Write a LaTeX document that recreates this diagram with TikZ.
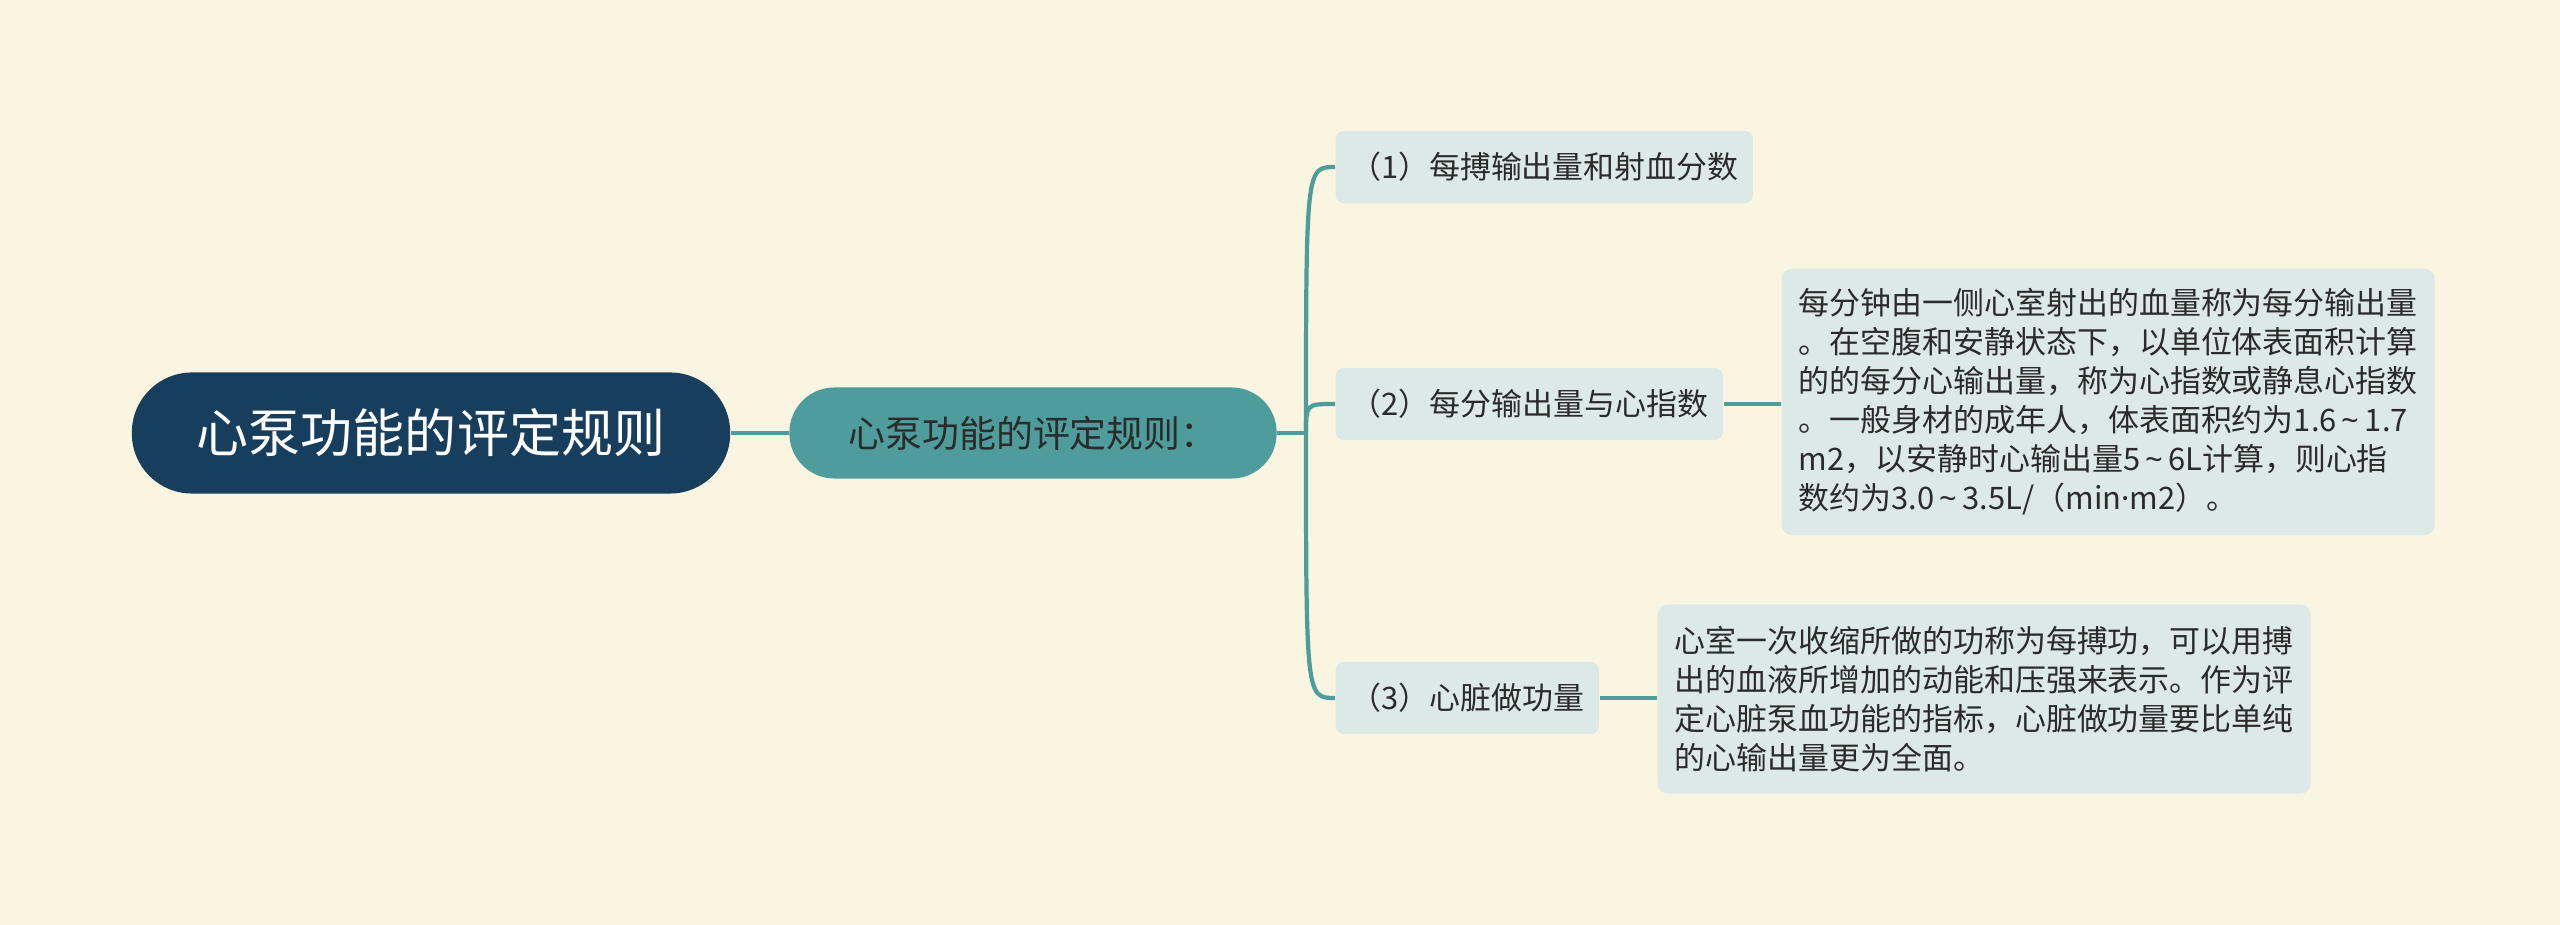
\documentclass[tikz,border=0pt]{standalone}
\usepackage{fontspec}
\setmainfont{Noto Sans CJK SC}
\newfontfamily\latinfont{Noto Sans}
\newcommand{\rangesign}{{\latinfont\,\textasciitilde\,}}
\newcommand{\middot}{{\latinfont ·}}
\definecolor{bgcream}{HTML}{FAF5E0}
\definecolor{rootblue}{HTML}{173E5C}
\definecolor{mainteal}{HTML}{4E9C9B}
\definecolor{boxlight}{HTML}{DCE9E7}
\definecolor{textdark}{HTML}{2B2B2B}
\begin{document}
\begin{tikzpicture}[
    x=0.01cm, y=-0.01cm,
    rootnode/.style={fill=rootblue, text=white, rounded corners=0.6cm,
      minimum width=5.98cm, minimum height=1.21cm, inner sep=0pt,
      font=\fontsize{14.8pt}{18pt}\selectfont},
    mainnode/.style={fill=mainteal, text=textdark, rounded corners=0.45cm,
      minimum width=4.87cm, minimum height=0.91cm, inner sep=0pt,
      font=\fontsize{10.5pt}{13pt}\selectfont},
    subnode/.style={fill=boxlight, text=textdark, rounded corners=0.08cm,
      anchor=west, minimum height=0.72cm, inner sep=0pt,
      font=\fontsize{8.8pt}{11.1pt}\selectfont},
    descnode/.style={fill=boxlight, text=textdark, rounded corners=0.1cm,
      anchor=west, align=left, inner xsep=0.17cm, inner ysep=0pt,
      font=\fontsize{8.8pt}{11.1pt}\selectfont},
    link/.style={draw=mainteal, line width=1.2pt},
  ]

  % Background sets the page size.
  \fill[bgcream, use as bounding box] (0,0) rectangle (2560,925);

  % Root and first level.
  \node[rootnode] (root) at (431,433) {心泵功能的评定规则};
  \node[mainnode] (main) at (1033,433) {心泵功能的评定规则：};

  % Second level items.
  \node[subnode, minimum width=4.17cm] (sub1) at (1335,167) {（1）每搏输出量和射血分数};
  \node[subnode, minimum width=3.87cm] (sub2) at (1335,404) {（2）每分输出量与心指数};
  \node[subnode, minimum width=2.63cm] (sub3) at (1335,698) {（3）心脏做功量};

  % Explanations.
  \node[descnode, minimum height=2.66cm] (desc2) at (1781,402)
    {每分钟由一侧心室射出的血量称为每分输出量\\
     。在空腹和安静状态下，以单位体表面积计算\\
     的的每分心输出量，称为心指数或静息心指数\\
     。一般身材的成年人，体表面积约为1.6\rangesign 1.7\\
     m2，以安静时心输出量5\rangesign 6L计算，则心指\\
     数约为3.0\rangesign 3.5L/（min\middot m2）。};
  \node[descnode, minimum height=1.89cm] (desc3) at (1657,699)
    {心室一次收缩所做的功称为每搏功，可以用搏\\
     出的血液所增加的动能和压强来表示。作为评\\
     定心脏泵血功能的指标，心脏做功量要比单纯\\
     的心输出量更为全面。};

  % Connectors.
  \coordinate (fork) at (1306,433);
  \draw[link] (root.east) -- (main.west);
  \draw[link] (main.east) -- (fork);
  \draw[link] (fork) .. controls (fork |- sub1.west) .. (sub1.west);
  \draw[link] (fork) .. controls (fork |- sub2.west) .. (sub2.west);
  \draw[link] (fork) .. controls (fork |- sub3.west) .. (sub3.west);
  \draw[link] (sub2.east) -- (sub2.east -| desc2.west);
  \draw[link] (sub3.east) -- (sub3.east -| desc3.west);
\end{tikzpicture}
\end{document}
